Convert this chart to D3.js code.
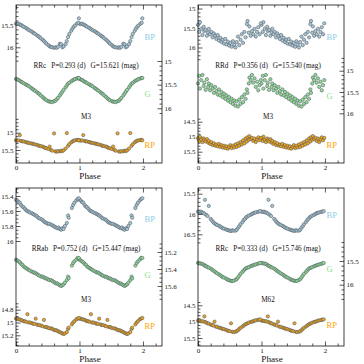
<!DOCTYPE html>
<html>
<head>
<meta charset="utf-8">
<script src="https://cdn.jsdelivr.net/npm/d3@7/dist/d3.min.js"></script>
<style>
body { margin: 0; background: #fff; }
text { font-family: "Liberation Serif", "DejaVu Serif", serif; fill: #111; }
</style>
</head>
<body>
<div id="chart"></div>
<script>
const w = 364;
const h = 364;

// star info
const starTypes = ["RRc", "RRd", "RRab", "RRc"];
const periods = ["0.293", "0.356", "0.752", "0.333"];
const meanG = ["15.621", "15.540", "15.447", "15.746"];
const clusters = ["M3", "M3", "M3", "M62"];
const bandNames = ["BP", "G", "RP"];
const xMajor = [0, 1, 2];

// top left: RRc in M3
const phaseTL = [0.00, 0.02, 0.04, 0.06, 0.08, 0.10, 0.12, 0.15, 0.17, 0.19, 0.21, 0.24, 0.26, 0.28, 0.30, 0.33,
    0.35, 0.37, 0.39, 0.42, 0.44, 0.46, 0.48, 0.51, 0.53, 0.55, 0.57, 0.60, 0.62, 0.64, 0.66, 0.69, 0.71,
    0.73, 0.75, 0.78, 0.80, 0.82, 0.84, 0.87, 0.89, 0.91, 0.93, 0.96, 0.98, 0.99];
const bpTL = [15.47, 15.48, 15.47, 15.49, 15.50, 15.52, 15.54, 15.56, 15.58, 15.60, 15.62, 15.64, 15.66, 15.68, 15.70, 15.73,
    15.75, 15.77, 15.80, 15.83, 15.86, 15.89, 15.92, 15.95, 15.98, 15.99, 16.00, 16.01, 16.00, 16.01, 15.99, 15.92, 15.93,
    16.00, 15.98, 15.93, 15.86, 15.77, 15.70, 15.63, 15.58, 15.54, 15.51, 15.47, 15.45, 15.35];
const gTL = [15.38, 15.39, 15.40, 15.42, 15.44, 15.45, 15.47, 15.49, 15.51, 15.52, 15.54, 15.57, 15.59, 15.61, 15.63, 15.66,
    15.68, 15.70, 15.73, 15.76, 15.79, 15.81, 15.83, 15.85, 15.86, 15.86, 15.87, 15.85, 15.84, 15.81, 15.78, 15.73, 15.69,
    15.65, 15.61, 15.56, 15.52, 15.48, 15.46, 15.43, 15.41, 15.40, 15.38, 15.37, 15.36, 15.36];
const rpTL = [15.22, 15.23, 15.22, 15.07, 15.24, 15.25, 15.25, 15.27, 15.28, 15.29, 15.30, 15.31, 15.32, 15.33, 15.34, 15.35,
    15.37, 15.38, 15.39, 15.40, 15.42, 15.44, 15.45, 15.47, 15.40, 15.50, 15.52, 15.02, 15.54, 15.55, 15.53, 15.54, 15.52,
    15.53, 15.51, 15.46, 15.01, 15.38, 15.33, 15.28, 15.25, 15.23, 15.22, 15.21, 15.21, 15.22];

// top right: RRd in M3
const phaseTR = [0.00, 0.02, 0.03, 0.05, 0.07, 0.09, 0.10, 0.12, 0.14, 0.16, 0.17, 0.19, 0.21, 0.23, 0.25, 0.27, 0.29,
    0.31, 0.33, 0.35, 0.37, 0.39, 0.41, 0.43, 0.45, 0.47, 0.49, 0.51, 0.53, 0.55, 0.57, 0.59, 0.61, 0.63, 0.65,
    0.67, 0.69, 0.71, 0.73, 0.75, 0.77, 0.78, 0.80, 0.81, 0.83, 0.85, 0.87, 0.89, 0.91, 0.93, 0.95, 0.97, 0.99];
const bpTR = [15.42, 15.60, 15.35, 15.52, 15.68, 15.47, 15.58, 15.55, 15.70, 15.62, 15.52, 15.66, 15.60, 15.74, 15.64, 15.70, 15.78,
    15.68, 15.82, 15.75, 15.86, 15.80, 15.90, 15.78, 15.92, 15.85, 15.95, 15.88, 15.98, 15.84, 15.93, 16.00, 15.86, 15.72, 15.94,
    15.80, 15.66, 15.88, 15.60, 15.74, 15.40, 15.32, 15.62, 15.46, 15.70, 15.58, 15.66, 15.52, 15.72, 15.60, 15.48, 15.66, 15.38];
const gTR = [15.30, 15.12, 15.42, 15.22, 15.10, 15.36, 15.28, 15.45, 15.20, 15.38, 15.30, 15.46, 15.34, 15.42, 15.52, 15.38, 15.48,
    15.56, 15.44, 15.58, 15.50, 15.62, 15.54, 15.66, 15.58, 15.70, 15.62, 15.74, 15.66, 15.78, 15.70, 15.82, 15.72, 15.84, 15.68,
    15.78, 15.62, 15.74, 15.56, 15.66, 15.44, 15.52, 15.30, 15.16, 15.22, 15.10, 15.28, 15.18, 15.38, 15.26, 15.46, 15.34, 15.22];
const rpTR = [15.05, 15.14, 15.00, 15.10, 15.18, 15.06, 15.12, 15.16, 15.08, 15.20, 15.14, 15.24, 15.18, 15.28, 15.22, 15.30, 15.26,
    15.32, 15.24, 15.34, 15.28, 15.36, 15.30, 15.38, 15.32, 15.40, 15.34, 15.28, 15.38, 15.30, 15.36, 15.26, 15.34, 15.22, 15.30,
    15.18, 15.26, 15.12, 15.22, 15.06, 15.16, 15.02, 15.10, 14.98, 15.08, 15.04, 15.14, 15.06, 15.18, 15.10, 15.02, 15.12, 15.04];

// bottom left: RRab in M3
const phaseBL = [0.00, 0.02, 0.04, 0.06, 0.08, 0.10, 0.12, 0.14, 0.16, 0.18, 0.20, 0.22, 0.25, 0.27, 0.29, 0.31,
    0.33, 0.35, 0.37, 0.40, 0.42, 0.44, 0.46, 0.48, 0.50, 0.52, 0.55, 0.57, 0.59, 0.61, 0.63, 0.65, 0.67, 0.69,
    0.71, 0.73, 0.75, 0.77, 0.80, 0.82, 0.83, 0.88, 0.90, 0.92, 0.95, 0.97, 0.99];
const bpBL = [15.45, 15.46, 15.48, 15.49, 15.52, 15.54, 15.55, 15.57, 15.59, 15.60, 15.61, 15.62, 15.63, 15.64, 15.65, 15.66,
    15.67, 15.69, 15.70, 15.71, 15.72, 15.74, 15.75, 15.76, 15.77, 15.77, 15.78, 15.79, 15.80, 15.81, 15.82, 15.83, 15.82, 15.84,
    15.85, 15.83, 15.84, 15.80, 15.76, 15.66, 15.69, 15.56, 15.52, 15.49, 15.46, 15.44, 15.43];
const gBL = [15.29, 15.30, 15.31, 15.32, 15.34, 15.35, 15.37, 15.38, 15.39, 15.40, 15.41, 15.42, 15.43, 15.44, 15.44, 15.45,
    15.46, 15.47, 15.48, 15.49, 15.49, 15.50, 15.51, 15.51, 15.52, 15.53, 15.53, 15.54, 15.55, 15.56, 15.57, 15.57, 15.58, 15.59,
    15.60, 15.59, 15.58, 15.56, 15.53, 15.49, 15.51, 15.36, 15.33, 15.31, 15.29, 15.27, 15.27];
const rpBL = [14.94, 14.94, 14.95, 14.95, 14.96, 14.97, 14.98, 14.98, 14.99, 14.87, 15.00, 15.00, 15.01, 15.02, 15.02, 14.94,
    15.03, 15.04, 15.04, 15.05, 15.06, 14.96, 15.07, 15.07, 15.08, 15.09, 15.09, 15.10, 15.11, 15.12, 15.12, 15.13, 15.14, 15.15,
    15.16, 15.17, 15.18, 15.17, 15.15, 15.10, 15.08, 15.03, 15.00, 14.98, 14.95, 14.94, 14.93];

// bottom right: RRc in M62
const phaseBR = [0.00, 0.02, 0.04, 0.06, 0.08, 0.10, 0.11, 0.13, 0.15, 0.17, 0.20, 0.22, 0.24, 0.26, 0.28, 0.30,
    0.33, 0.35, 0.37, 0.39, 0.41, 0.44, 0.46, 0.48, 0.50, 0.52, 0.54, 0.56, 0.59, 0.61, 0.63, 0.65, 0.67, 0.70,
    0.72, 0.74, 0.76, 0.78, 0.80, 0.83, 0.85, 0.87, 0.89, 0.91, 0.94, 0.96, 0.98];
const bpBR = [15.94, 15.95, 15.94, 15.96, 15.97, 15.99, 15.65, 16.02, 16.05, 15.80, 16.12, 16.16, 16.20, 16.23, 16.25, 16.27,
    16.29, 16.31, 16.33, 16.35, 16.36, 16.38, 16.39, 16.40, 16.41, 16.42, 16.40, 16.41, 16.41, 16.39, 16.34, 16.30, 16.25, 16.20,
    16.15, 16.12, 16.08, 16.06, 16.04, 16.02, 16.00, 15.98, 15.97, 15.96, 15.95, 15.94, 15.93];
const gBR = [15.54, 15.55, 15.55, 15.56, 15.57, 15.59, 15.60, 15.61, 15.63, 15.64, 15.66, 15.68, 15.70, 15.72, 15.74, 15.76,
    15.78, 15.80, 15.82, 15.84, 15.85, 15.87, 15.89, 15.90, 15.91, 15.92, 15.92, 15.92, 15.90, 15.88, 15.85, 15.81, 15.77, 15.73,
    15.70, 15.67, 15.65, 15.64, 15.63, 15.61, 15.60, 15.59, 15.58, 15.57, 15.56, 15.55, 15.54];
const rpBR = [14.97, 14.97, 14.98, 14.99, 14.99, 14.84, 15.01, 15.03, 15.05, 15.06, 15.09, 15.10, 15.12, 15.00, 15.15, 15.16,
    15.18, 15.19, 15.21, 15.22, 15.23, 15.25, 15.27, 15.28, 15.29, 15.05, 15.31, 15.32, 15.31, 15.29, 15.26, 15.22, 15.19, 15.15,
    15.12, 15.09, 15.07, 15.05, 15.03, 15.01, 15.00, 14.99, 14.97, 14.96, 14.95, 14.94, 14.93];

// layout of the four panels (local coords inside each frame)
const frameW = 146, frameH = 158;
const panels = [
    { x: 16, y: 5, phase: phaseTL, mags: [bpTL, gTL, rpTL],
      axes: [{ m: [15.5, 16], y: [20, 42.3], step: 0.5, minor: 0.1 },
             { m: [15, 16], y: [56, 103.3], step: 0.5, minor: 0.1 },
             { m: [15, 15.5], y: [127.7, 145], step: 0.5, minor: 0.1 }],
      labelY: [35, 91.5, 143] },
    { x: 198, y: 5, phase: phaseTR, mags: [bpTR, gTR, rpTR],
      axes: [{ m: [15, 16], y: [3.5, 42.5], step: 0.5, minor: 0.1 },
             { m: [15, 16], y: [65.7, 108.3], step: 0.5, minor: 0.1 },
             { m: [14.5, 15.5], y: [116.7, 146.7], step: 0.5, minor: 0.1 }],
      labelY: [35, 94, 143] },
    { x: 16, y: 188, phase: phaseBL, mags: [bpBL, gBL, rpBL],
      axes: [{ m: [15.4, 16], y: [8, 53], step: 0.2, minor: 0.05 },
             { m: [15.2, 15.6], y: [64, 98], step: 0.2, minor: 0.05 },
             { m: [14.8, 15.2], y: [121.7, 147.3], step: 0.2, minor: 0.05 }],
      labelY: [33.5, 89.5, 140.5] },
    { x: 198, y: 188, phase: phaseBR, mags: [bpBR, gBR, rpBR],
      axes: [{ m: [15.5, 16.5], y: [5.7, 46.3], step: 0.5, minor: 0.1 },
             { m: [15.5, 16], y: [73, 96.7], step: 0.5, minor: 0.1 },
             { m: [14.5, 15.5], y: [117.3, 150], step: 0.5, minor: 0.1 }],
      labelY: [29.5, 83.5, 139.5] }
];

// band extents on the frame edges, marker fills, label colours
const bandExt = [[0, 56], [52, 112], [113, frameH]];
const fills = ["#a9c6d4", "#93dc93", "#f2a21a"];
const labelColors = ["#8ecbe6", "#8ee08e", "#ffa500"];

const svg = d3.select("#chart")
    .append("svg")
    .attr("width", w)
    .attr("height", h);

const x = d3.scaleLinear().domain([0, 2.3]).range([0, frameW]);

let stepTicks = function(scale, ext, step) {
    let a = scale.invert(ext[0]), b = scale.invert(ext[1]);
    let lo = Math.min(a, b), hi = Math.max(a, b);
    let out = [];
    for (let k = Math.ceil(lo / step - 1e-6); k * step <= hi + 1e-6; k++) {
        out.push(+(k * step).toFixed(3));
    }
    return out;
};

let styleAxis = function(g) {
    g.select(".domain").remove();
    g.selectAll("line").attr("stroke", "#111").attr("stroke-width", 0.7);
    g.selectAll("text").attr("font-size", 7).attr("fill", "#111")
        .style("font-family", "'Liberation Serif', serif");
};

panels.forEach(function(p, pi) {
    const g = svg.append("g").attr("transform", "translate(" + p.x + "," + p.y + ")");

    // x axes (ticks inward, top and bottom)
    const xMinor = d3.range(0, 2.3, 0.2).map(d => +d.toFixed(1)).filter(d => xMajor.indexOf(d) < 0);
    g.append("g").attr("transform", "translate(0," + frameH + ")")
        .call(d3.axisBottom(x).tickValues(xMajor).tickSize(-4.5).tickPadding(2.5).tickFormat(d3.format("d")))
        .call(styleAxis);
    g.append("g").attr("transform", "translate(0," + frameH + ")")
        .call(d3.axisBottom(x).tickValues(xMinor).tickSize(-2.5).tickFormat(""))
        .call(styleAxis);
    g.append("g")
        .call(d3.axisTop(x).tickValues(xMajor).tickSize(-4.5).tickFormat(""))
        .call(styleAxis);
    g.append("g")
        .call(d3.axisTop(x).tickValues(xMinor).tickSize(-2.5).tickFormat(""))
        .call(styleAxis);

    // one y scale per band
    p.axes.forEach(function(a, bi) {
        const y = d3.scaleLinear().domain(a.m).range(a.y);
        const majors = stepTicks(y, bandExt[bi], a.step);
        const minors = stepTicks(y, bandExt[bi], a.minor)
            .filter(v => majors.every(m => Math.abs(m - v) > 1e-6));
        const onRight = bi === 1;
        const axisMaker = onRight ? d3.axisRight : d3.axisLeft;
        const tx = onRight ? frameW : 0;

        g.append("g").attr("transform", "translate(" + tx + ",0)")
            .call(axisMaker(y).tickValues(majors).tickSize(-4.5).tickPadding(2.5).tickFormat(d => String(+d.toFixed(2))))
            .call(styleAxis);
        g.append("g").attr("transform", "translate(" + tx + ",0)")
            .call(axisMaker(y).tickValues(minors).tickSize(-2.5).tickFormat(""))
            .call(styleAxis);

        // phase-folded points, shown twice (phase and phase + 1)
        const pts = [];
        p.phase.forEach(function(ph, i) {
            pts.push({ ph: ph, m: p.mags[bi][i] });
            pts.push({ ph: ph + 1, m: p.mags[bi][i] });
        });

        g.append("g")
            .selectAll("circle")
            .data(pts)
            .enter()
            .append("circle")
            .attr("cx", d => x(d.ph))
            .attr("cy", d => y(d.m))
            .attr("r", 1.65)
            .style("fill", fills[bi])
            .style("stroke", "#4b5861")
            .style("stroke-width", 0.55);

        g.append("text")
            .attr("x", 128.5)
            .attr("y", p.labelY[bi])
            .attr("font-size", 8.5)
            .style("fill", labelColors[bi])
            .text(bandNames[bi]);
    });

    // frame
    g.append("rect")
        .attr("width", frameW)
        .attr("height", frameH)
        .attr("fill", "none")
        .attr("stroke", "#111")
        .attr("stroke-width", 0.8);

    // star info line, three parts with wide gaps
    const info = g.append("text")
        .attr("x", 70)
        .attr("y", 62.5)
        .attr("text-anchor", "middle")
        .attr("font-size", 7.2);
    info.append("tspan").text(starTypes[pi]);
    info.append("tspan").attr("dx", 5).text("P=" + periods[pi] + " (d)");
    info.append("tspan").attr("dx", 5).text("G=" + meanG[pi] + " (mag)");

    g.append("text")
        .attr("x", 70)
        .attr("y", 114)
        .attr("text-anchor", "middle")
        .attr("font-size", 7.2)
        .text(clusters[pi]);

    g.append("text")
        .attr("x", 74)
        .attr("y", 173.5)
        .attr("text-anchor", "middle")
        .attr("font-size", 9.2)
        .text("Phase");
});
</script>
</body>
</html>
